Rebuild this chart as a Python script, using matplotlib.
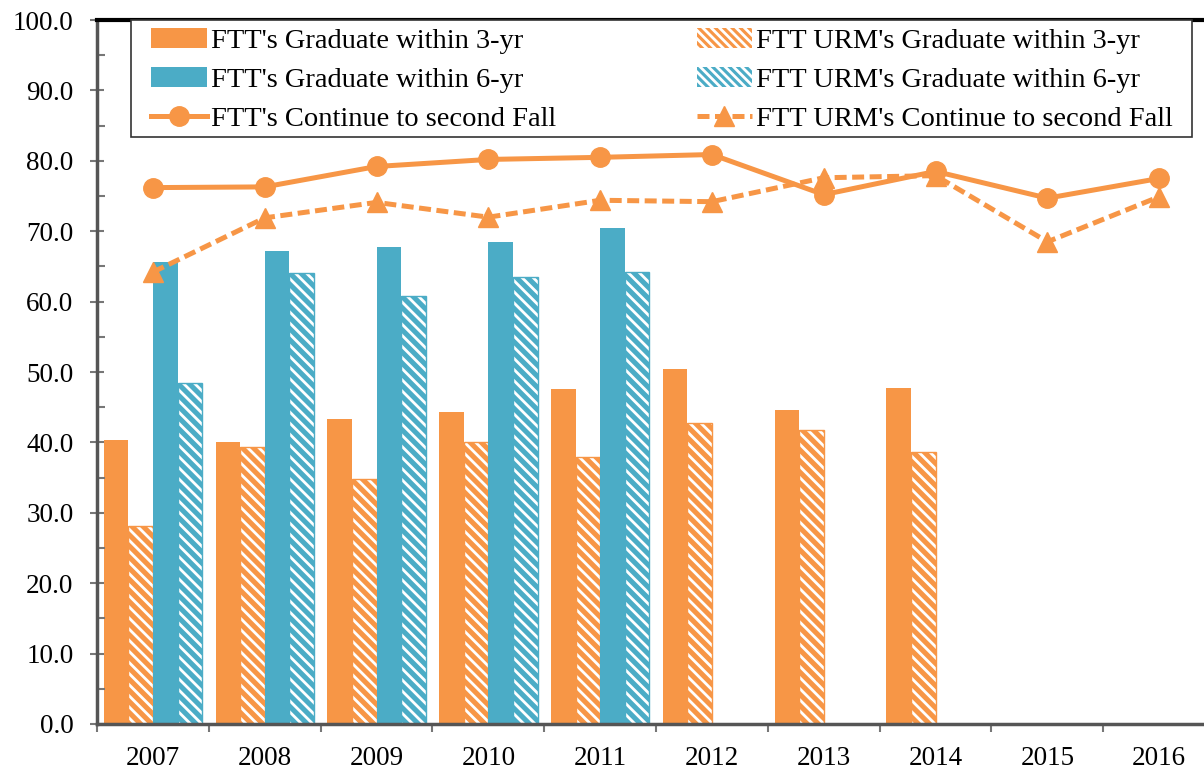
import numpy as np
import matplotlib.pyplot as plt
from matplotlib.patches import Rectangle
from matplotlib.ticker import MultipleLocator, FixedLocator, FormatStrFormatter

plt.rcParams['font.family'] = ['Liberation Serif', 'DejaVu Serif']
plt.rcParams['hatch.linewidth'] = 2.0

years = ['2007', '2008', '2009', '2010', '2011', '2012', '2013', '2014', '2015', '2016']
ftt_grad3 = [40.4, 40.1, 43.3, 44.3, 47.6, 50.4, 44.6, 47.7, np.nan, np.nan]
urm_grad3 = [28.1, 39.4, 34.8, 40.0, 37.9, 42.8, 41.8, 38.6, np.nan, np.nan]
ftt_grad6 = [65.7, 67.2, 67.7, 68.5, 70.4, np.nan, np.nan, np.nan, np.nan, np.nan]
urm_grad6 = [48.5, 64.0, 60.8, 63.5, 64.2, np.nan, np.nan, np.nan, np.nan, np.nan]
ftt_cont = [76.2, 76.3, 79.2, 80.2, 80.5, 80.9, 75.2, 78.5, 74.7, 77.5]
urm_cont = [64.2, 71.9, 74.1, 72.0, 74.4, 74.2, 77.6, 77.9, 68.5, 74.9]

orange = '#F79646'
blue = '#4BACC6'

x = np.arange(len(years))
w = 0.22

fig = plt.figure(figsize=(12.04, 7.72), dpi=100)
ax = fig.add_axes([0.0806, 0.0622, 0.9286, 0.9118])

h1 = ax.bar(x - 1.5 * w, ftt_grad3, w, color=orange, linewidth=0)
ax.bar(x - 0.5 * w, urm_grad3, w, color=orange, edgecolor='white', hatch='\\\\\\', linewidth=0)
ax.bar(x - 0.5 * w, urm_grad3, w, fill=False, edgecolor=orange, linewidth=1)
h3 = ax.bar(x + 0.5 * w, ftt_grad6, w, color=blue, linewidth=0)
ax.bar(x + 1.5 * w, urm_grad6, w, color=blue, edgecolor='white', hatch='\\\\\\', linewidth=0)
ax.bar(x + 1.5 * w, urm_grad6, w, fill=False, edgecolor=blue, linewidth=1)

# legend proxies for the hatched bars
h2 = ax.bar([0], [0], 0, color=orange, edgecolor='white', hatch='\\\\\\\\', linewidth=0)
h4 = ax.bar([0], [0], 0, color=blue, edgecolor='white', hatch='\\\\\\\\', linewidth=0)

l1, = ax.plot(x, ftt_cont, color=orange, lw=3.6, marker='o', markersize=14)
l2, = ax.plot(x, urm_cont, color=orange, lw=3.6, ls=(0, (2.4, 1.1)), marker='^', markersize=14)

ax.set_xlim(-0.5, 9.5)
ax.set_ylim(0, 100)
ax.yaxis.set_major_locator(MultipleLocator(10))
ax.yaxis.set_minor_locator(MultipleLocator(5))
ax.yaxis.set_major_formatter(FormatStrFormatter('%.1f'))
ax.tick_params(axis='y', which='major', direction='inout', length=10, width=1.5, color='#777777', labelsize=19.5, pad=12)
ax.tick_params(axis='y', which='minor', direction='in', length=6, width=1.5, color='#777777')

ax.set_xticks(x)
ax.set_xticklabels(years)
ax.xaxis.set_minor_locator(FixedLocator(np.arange(-0.5, 10, 1)))
ax.tick_params(axis='x', which='major', length=0, labelsize=19.5, pad=16)
ax.tick_params(axis='x', which='minor', direction='out', length=6, width=1.5, color='#777777')

ax.spines['top'].set_color('black')
ax.spines['top'].set_linewidth(3)
for s in ['left', 'bottom']:
    ax.spines[s].set_color('#555555')
    ax.spines[s].set_linewidth(2.5)
ax.spines['right'].set_visible(False)

# legend box
ax.add_patch(Rectangle((0.0304, 0.834), 0.9486, 0.166, transform=ax.transAxes,
                       facecolor='white', edgecolor='#333333', linewidth=1.2, zorder=4.9, clip_on=False))

handles = [h1, h3, l1, h2, h4, l2]
labels = ["FTT's Graduate within 3-yr", "FTT's Graduate within 6-yr", "FTT's Continue to second Fall",
          "FTT URM's Graduate within 3-yr", "FTT URM's Graduate within 6-yr", "FTT URM's Continue to second Fall"]
leg = ax.legend(handles, labels, ncol=2, loc='upper left', bbox_to_anchor=(0.0483, 0, 0.914, 0.989),
                mode='expand', fontsize=20.5, frameon=False,
                handlelength=1.95, handletextpad=0.14, labelspacing=0.46, borderpad=0,
                borderaxespad=0)
leg.set_zorder(5)

plt.savefig('out.png', dpi=100)
